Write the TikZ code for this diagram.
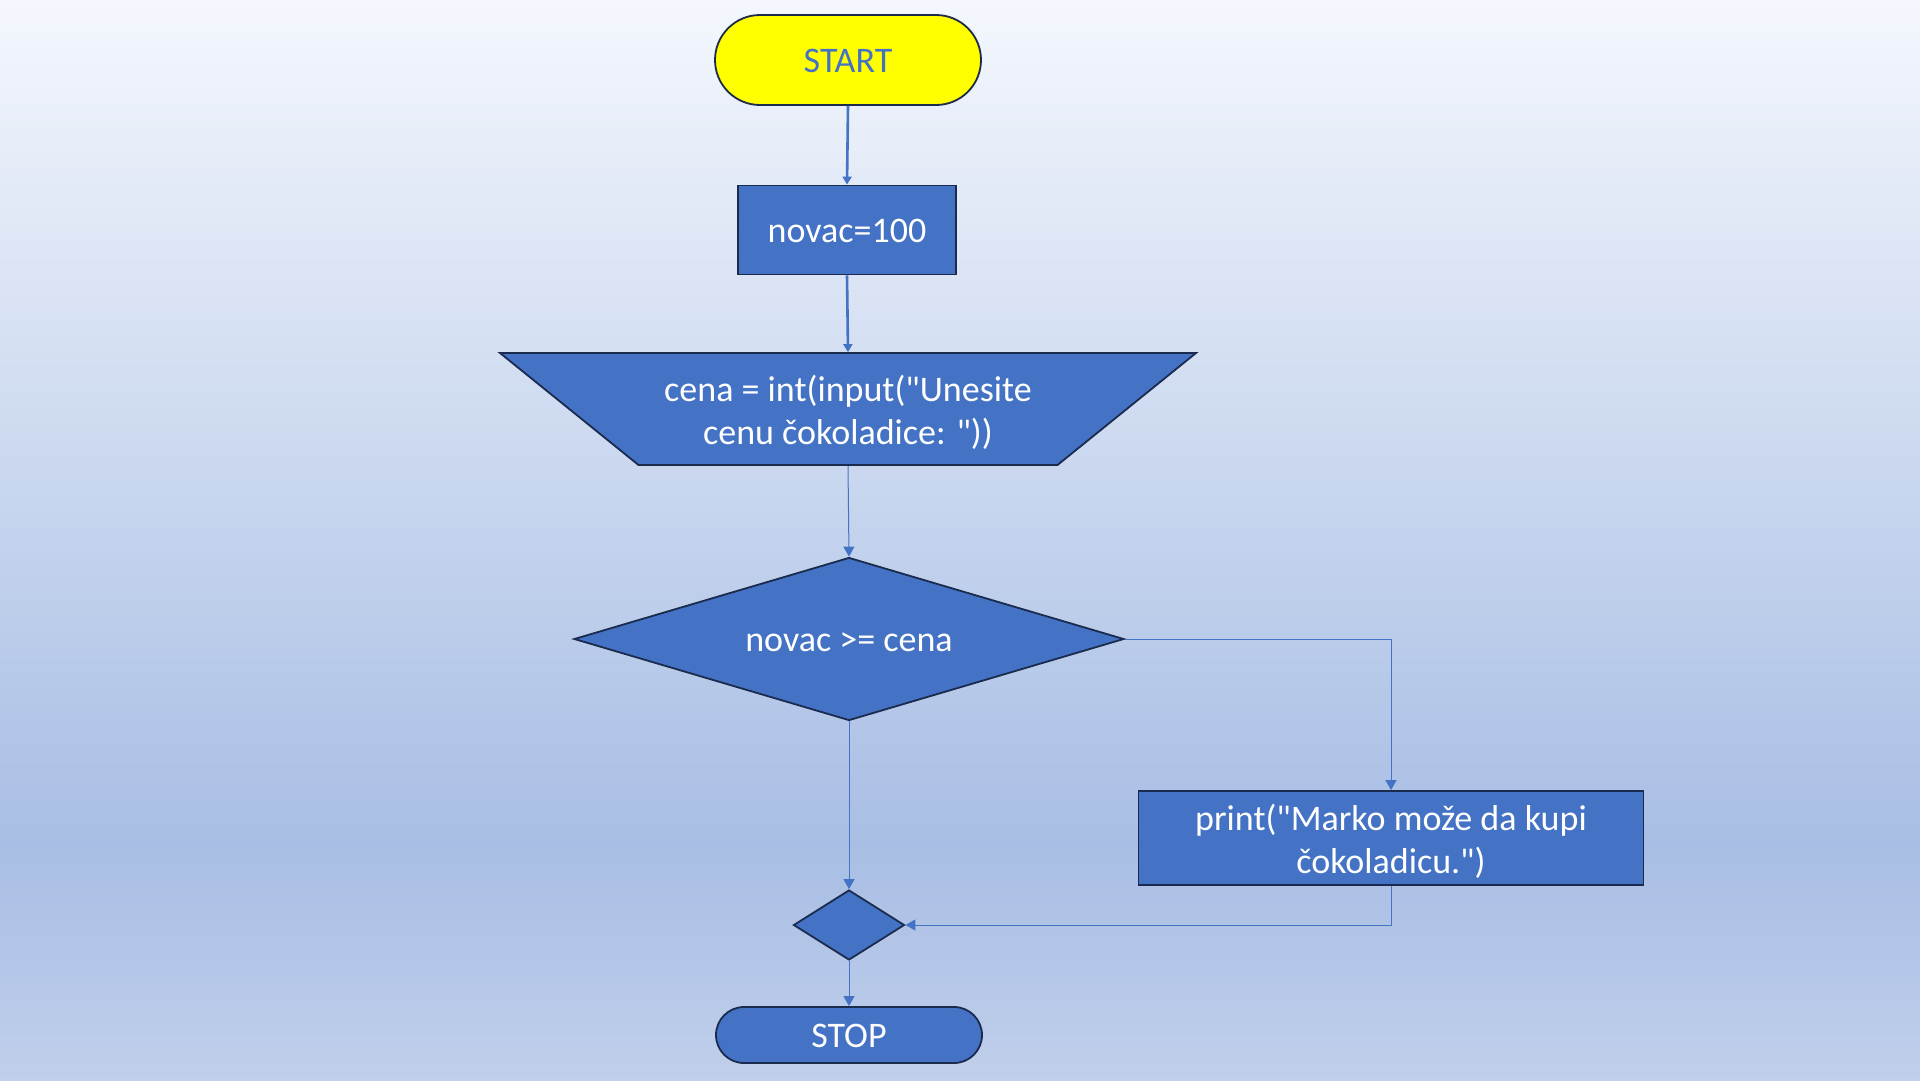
\documentclass[tikz,border=0pt]{standalone}
\usepackage{fontspec}
\setmainfont{Carlito}[Ligatures=TeXOff]
\usetikzlibrary{shapes.geometric,arrows.meta}
\definecolor{bgtop}{HTML}{F4F7FD}
\definecolor{bgmid}{HTML}{A8BEE4}
\definecolor{bgbot}{HTML}{C0CFEB}
\definecolor{acc}{HTML}{4472C4}
\definecolor{edge}{HTML}{1B2B4E}
\definecolor{startfill}{HTML}{FFFF00}
\newcommand\lstrut{\rule[-9pt]{0pt}{42pt}}
\newcommand\fstrut{\rule{0pt}{37pt}}
\tikzset{
  box/.style={draw=edge, line width=1.8pt, fill=acc, text=white, inner sep=0pt, align=center,
    font=\fontsize{36}{43}\selectfont, execute at begin node=\lstrut},
  pill/.style={box, rectangle, minimum width=266pt},
  procbox/.style={box, rectangle},
  decbox/.style={box, diamond},
  iotext/.style={box, rectangle, draw=none, fill=none},
  ioshape/.style={draw=edge, line width=1.8pt, fill=acc, line join=miter},
  conn/.style={draw=acc, line width=1pt, -{Triangle[length=10pt,width=11pt]}},
  thickconn/.style={conn, line width=2.6pt, -{Triangle[length=8pt,width=9pt]}}
}
\begin{document}
\begin{tikzpicture}[x=1pt,y=-1pt]
\useasboundingbox (0,0) rectangle (1920,1080);
\shade[top color=bgtop, bottom color=bgmid] (0,0) rectangle (1920,845);
\shade[top color=bgmid, bottom color=bgbot] (0,844) rectangle (1920,1080);

% input/output trapezoid shape
\path[ioshape] (500,353) -- (1196,353) -- (1057.5,465) -- (638.5,465) -- cycle;

\node[pill, fill=startfill, text=acc, minimum height=90pt, rounded corners=45pt] (start) at (848,60) {START};
\node[procbox, minimum width=218pt, minimum height=89pt] (init) at (847,230) {novac=100};
\node[iotext, minimum width=696pt, minimum height=112pt] (input) at (848,409)
  {\fstrut cena = int(input("Unesite\\\lstrut cenu čokoladice: "))};
\node[decbox, aspect=3.37, minimum width=550pt, minimum height=163pt] (dec) at (849,639) {novac >= cena};
\node[procbox, minimum width=505pt, minimum height=94pt] (print) at (1391,838)
  {\fstrut print("Marko može da kupi\\\lstrut čokoladicu.")};
\node[decbox, minimum width=111pt, minimum height=70pt, execute at begin node={}] (join) at (849,925) {};
\node[pill, minimum height=56pt, rounded corners=28pt] (stop) at (849,1035) {STOP};

\draw[thickconn] (start.south) -- (init.north);
\draw[thickconn] (init.south) -- (input.north);
\draw[conn] (input.south) -- (dec.north);
\draw[conn] (dec.east) -| (print.north);
\draw[conn] (dec.south) -- (join.north);
\draw[conn] (print.south) |- (join.east);
\draw[conn] (join.south) -- (stop.north);
\end{tikzpicture}
\end{document}
